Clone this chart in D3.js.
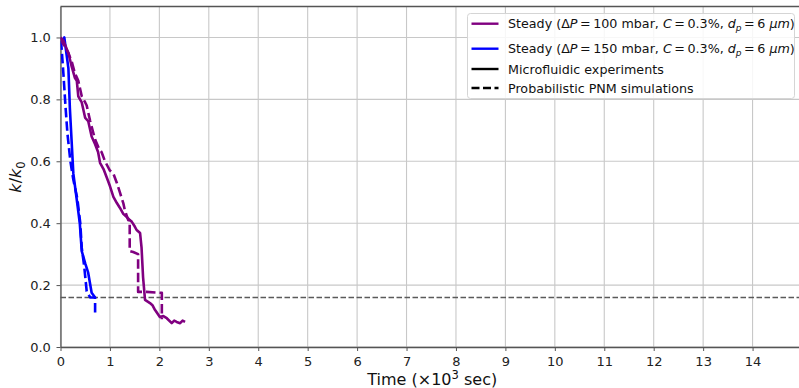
<!DOCTYPE html>
<html><head><meta charset="utf-8">
<script src="https://cdn.jsdelivr.net/npm/d3@7"></script>
<style>body{margin:0;background:#fff}svg{display:block;font-family:"DejaVu Sans",sans-serif}</style>
</head><body><svg id="c" width="799" height="388"></svg>
<script>
const xTicks = [0,1,2,3,4,5,6,7,8,9,10,11,12,13,14];
const yTicks = [0,0.2,0.4,0.6,0.8,1.0];
const threshold = 0.16;

// Steady, dP = 150 mbar — microfluidic experiment
const exp150X = [0.024,0.077,0.16,0.19,0.26,0.33,0.39,0.43,0.50,0.56,0.63,0.70];
const exp150Y = [0.98,1.0,0.90,0.77,0.56,0.475,0.40,0.31,0.27,0.24,0.175,0.16];
// Steady, dP = 150 mbar — PNM
const pnm150X = [0.0,0.02,0.06,0.10,0.14,0.20,0.26,0.34,0.40,0.43,0.48,0.53,0.60,0.70,0.70];
const pnm150Y = [0.99,0.97,0.88,0.78,0.69,0.60,0.54,0.48,0.40,0.32,0.26,0.18,0.16,0.16,0.10];
// Steady, dP = 100 mbar — microfluidic experiment
const exp100X = [0.0,0.057,0.16,0.22,0.29,0.33,0.36,0.43,0.50,0.56,0.63,0.70,0.76,0.80,0.87,0.93,1.0,1.07,1.14,1.20,1.27,1.34,1.40,1.44,1.50,1.54,1.61,1.64,1.67,1.71,1.81,1.86,1.91,2.01,2.08,2.15,2.25,2.30,2.35,2.42,2.47,2.52];
const exp100Y = [1.0,0.99,0.95,0.91,0.87,0.86,0.81,0.79,0.74,0.73,0.68,0.655,0.63,0.595,0.575,0.55,0.52,0.485,0.465,0.45,0.43,0.42,0.41,0.405,0.39,0.378,0.368,0.32,0.226,0.152,0.142,0.135,0.12,0.097,0.10,0.093,0.077,0.085,0.081,0.077,0.085,0.081];
// Steady, dP = 100 mbar — PNM
const pnm100X = [0.0,0.05,0.16,0.23,0.29,0.36,0.43,0.50,0.53,0.60,0.70,0.78,0.83,0.90,1.00,1.07,1.14,1.20,1.27,1.30,1.37,1.40,1.40,1.47,1.57,1.57,1.74,2.05,2.05];
const pnm100Y = [1.0,0.98,0.95,0.92,0.885,0.86,0.81,0.79,0.78,0.73,0.67,0.64,0.63,0.60,0.57,0.56,0.53,0.50,0.465,0.443,0.41,0.41,0.31,0.307,0.30,0.178,0.178,0.175,0.09];

const svg = d3.select("#c");
const x = d3.scaleLinear().domain([0,15]).range([60.5,802]);
const y = d3.scaleLinear().domain([0,1.1]).range([347,6.5]);
const L = 60.5, R = 802, T = 6.5, B = 347;

svg.append("defs").append("clipPath").attr("id","clip")
  .append("rect").attr("x",L).attr("y",T).attr("width",R-L).attr("height",B-T);

// grid
const g = svg.append("g");
g.selectAll(".gx").data(xTicks).join("line")
  .attr("x1",d=>x(d)).attr("x2",d=>x(d)).attr("y1",T).attr("y2",B)
  .attr("stroke","#c8c8c8").attr("stroke-width",1.1);
g.selectAll(".gy").data(yTicks).join("line")
  .attr("x1",L).attr("x2",R).attr("y1",d=>y(d)).attr("y2",d=>y(d))
  .attr("stroke","#c8c8c8").attr("stroke-width",1.1);

// axes
const xAxis = svg.append("g").attr("transform",`translate(0,${B})`)
  .call(d3.axisBottom(x).tickValues(xTicks).tickFormat(d3.format("d")).tickSize(4).tickSizeOuter(0));
const yAxis = svg.append("g").attr("transform",`translate(${L},0)`)
  .call(d3.axisLeft(y).tickValues(yTicks).tickFormat(d3.format(".1f")).tickSize(4).tickSizeOuter(0));
[xAxis,yAxis].forEach(a=>{
  a.select(".domain").attr("stroke","#555").attr("stroke-width",1.3);
  a.selectAll(".tick line").attr("stroke","#555").attr("stroke-width",1);
  a.selectAll(".tick text").attr("fill","#222").style("font-size","13px").style("font-family","DejaVu Sans");
});
xAxis.selectAll(".tick text").attr("dy","0.95em");
yAxis.selectAll(".tick text").attr("dx","-0.2em");
svg.append("line").attr("x1",L).attr("x2",R).attr("y1",T).attr("y2",T).attr("stroke","#555").attr("stroke-width",1.3);

// threshold line
svg.append("line").attr("x1",L).attr("x2",R).attr("y1",y(threshold)).attr("y2",y(threshold))
  .attr("stroke","#5a5a5a").attr("stroke-width",1.4).attr("stroke-dasharray","5.5,2.5");

const line = d3.line().x(d=>x(d[0])).y(d=>y(d[1]));
const plotG = svg.append("g").attr("clip-path","url(#clip)");
function draw(xs, ys, color, dashed){
  plotG.append("path").datum(xs.map((v,i)=>[v,ys[i]])).attr("d",line)
    .attr("fill","none").attr("stroke",color).attr("stroke-width",2.6)
    .attr("stroke-linejoin","round")
    .attr("stroke-dasharray",dashed?"9.5,4":null);
}
draw(pnm150X,pnm150Y,"#0000ff",true);
draw(exp150X,exp150Y,"#0000ff",false);
draw(pnm100X,pnm100Y,"#800080",true);
draw(exp100X,exp100Y,"#800080",false);

// axis labels
svg.append("text").attr("x",(L+R)/2+1).attr("y",385).attr("text-anchor","middle")
  .style("font-size","16px").attr("fill","#111")
  .html('Time (×10<tspan dy="-6" style="font-size:11.5px">3</tspan><tspan dy="6"> sec)</tspan>');
const yl = svg.append("text").attr("transform","translate(21,177) rotate(-90)").attr("text-anchor","middle")
  .style("font-size","16px").attr("fill","#111");
yl.html('<tspan font-style="italic">k</tspan>/<tspan font-style="italic">k</tspan><tspan dy="4" style="font-size:11.5px">0</tspan>');

// legend
const lg = svg.append("g");
lg.append("rect").attr("x",467.5).attr("y",13.5).attr("width",327).attr("height",85).attr("rx",3)
  .attr("fill","#fff").attr("fill-opacity",0.85).attr("stroke","#d5d5d5");
const th = "\u2009";
function steady(p){
  return `Steady (Δ<tspan font-style="italic">P</tspan>${th}=${th}${p} mbar, <tspan font-style="italic">C</tspan>${th}=${th}0.3%, <tspan font-style="italic">d</tspan><tspan dy="3" font-style="italic" style="font-size:9px">p</tspan><tspan dy="-3">${th}=${th}6 </tspan><tspan font-style="italic">μm</tspan>)`;
}
const legendItems = [
  {c:"#800080", d:false, html:steady(100), y:23.7},
  {c:"#0000ff", d:false, html:steady(150), y:48.7},
  {c:"#000", d:false, html:'Microfluidic experiments', y:69},
  {c:"#000", d:true, html:'Probabilistic PNM simulations', y:88}
];
legendItems.forEach(it=>{
  lg.append("line").attr("x1",471.5).attr("x2",498.5).attr("y1",it.y).attr("y2",it.y)
    .attr("stroke",it.c).attr("stroke-width",2.4).attr("stroke-dasharray",it.d?"8,3.5":null);
  lg.append("text").attr("x",508).attr("y",it.y+4.5).style("font-size","12.7px").attr("fill","#111").html(it.html);
});
</script></body></html>
